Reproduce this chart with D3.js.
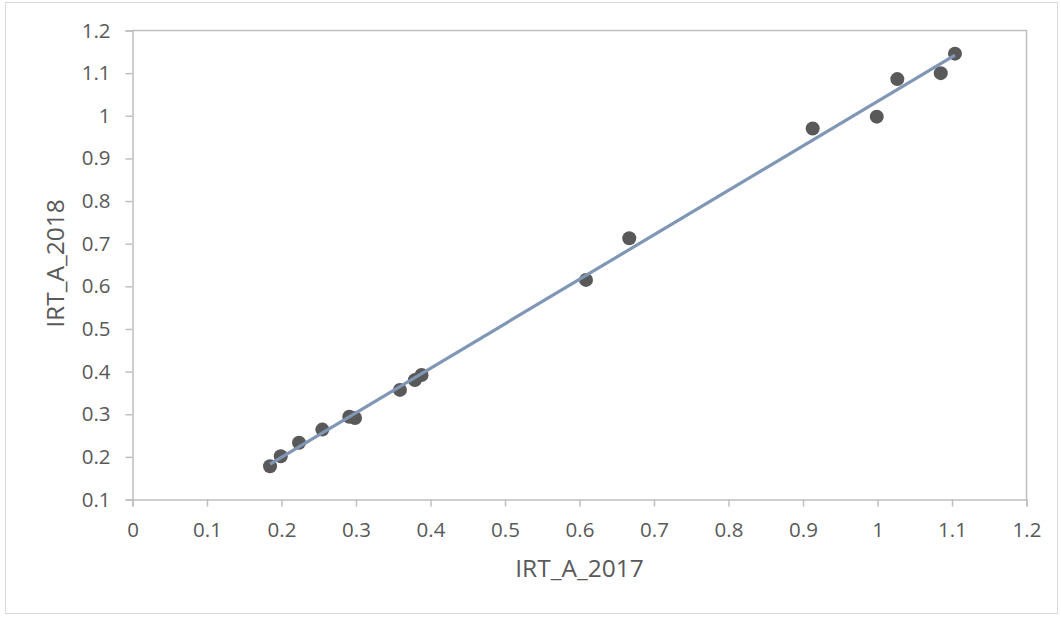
<!DOCTYPE html>
<html><head><meta charset="utf-8">
<script src="https://cdn.jsdelivr.net/npm/d3@7"></script>
<style>body{margin:0;background:#fff;}svg{display:block;}</style>
</head><body>
<svg id="c" width="1061" height="617"></svg>
<script>
const xValues = [0.1846,0.199,0.2235,0.2548,0.291,0.2987,0.359,0.379,0.388,0.6087,0.6668,0.913,0.999,1.0266,1.0849,1.104];
const yValues = [0.178,0.2016,0.233,0.264,0.294,0.291,0.357,0.380,0.392,0.615,0.7127,0.970,0.998,1.086,1.100,1.1457];
const xTicks = [0,0.1,0.2,0.3,0.4,0.5,0.6,0.7,0.8,0.9,1,1.1,1.2];
const yTicks = [0.1,0.2,0.3,0.4,0.5,0.6,0.7,0.8,0.9,1,1.1,1.2];
const xTitle = "IRT_A_2017";
const yTitle = "IRT_A_2018";

const svg = d3.select("#c");
const font = "'Open Sans', sans-serif";
const L = 132.5, R = 1026.5, T = 30.5, B = 499.5;
const x = d3.scaleLinear().domain([0,1.2]).range([L,R]);
const y = d3.scaleLinear().domain([0.1,1.2]).range([B,T]);

svg.append("rect").attr("x",5.5).attr("y",2.5).attr("width",1052).attr("height",611)
  .attr("fill","#fff").attr("stroke","#d9d9d9");

// plot border top/right
svg.append("path").attr("d",`M${L},${T}H${R}V${B}`).attr("fill","none").attr("stroke","#bfbfbf").attr("stroke-width",1.5);

const fmt = d => String(+d.toFixed(1));
const gx = svg.append("g").attr("transform",`translate(0,${B})`)
  .call(d3.axisBottom(x).tickValues(xTicks).tickFormat(fmt).tickSize(7).tickPadding(16));
const gy = svg.append("g").attr("transform",`translate(${L},0)`)
  .call(d3.axisLeft(y).tickValues(yTicks).tickFormat(fmt).tickSize(7).tickPadding(15));
[gx,gy].forEach(g=>{
  g.select(".domain").attr("stroke","#bfbfbf").attr("stroke-width",1.5);
  g.selectAll(".tick line").attr("stroke","#bfbfbf").attr("stroke-width",1.5);
  g.selectAll("text").attr("fill","#595959").style("font-family",font).style("font-size","20.5px");
});

// trendline (least squares)
const n = xValues.length;
const mx = d3.mean(xValues), my = d3.mean(yValues);
let sxy=0, sxx=0;
for(let i=0;i<n;i++){sxy+=(xValues[i]-mx)*(yValues[i]-my); sxx+=(xValues[i]-mx)**2;}
const slope = sxy/sxx, icpt = my - slope*mx;
const x0 = d3.min(xValues), x1 = d3.max(xValues);

svg.append("g").selectAll("circle").data(xValues).join("circle")
  .attr("cx",d=>x(d)).attr("cy",(d,i)=>y(yValues[i])).attr("r",7).attr("fill","#595959");

svg.append("line").attr("x1",x(x0)).attr("y1",y(slope*x0+icpt))
  .attr("x2",x(x1)).attr("y2",y(slope*x1+icpt))
  .attr("stroke","#7f96b4").attr("stroke-width",3.2);

svg.append("text").attr("x",579.5).attr("y",577).attr("text-anchor","middle")
  .attr("fill","#595959").style("font-family",font).style("font-size","24.5px").text(xTitle);
svg.append("text").attr("transform",`translate(63.5,263.5) rotate(-90)`).attr("text-anchor","middle")
  .attr("fill","#595959").style("font-family",font).style("font-size","24.5px").text(yTitle);
</script>
</body></html>
